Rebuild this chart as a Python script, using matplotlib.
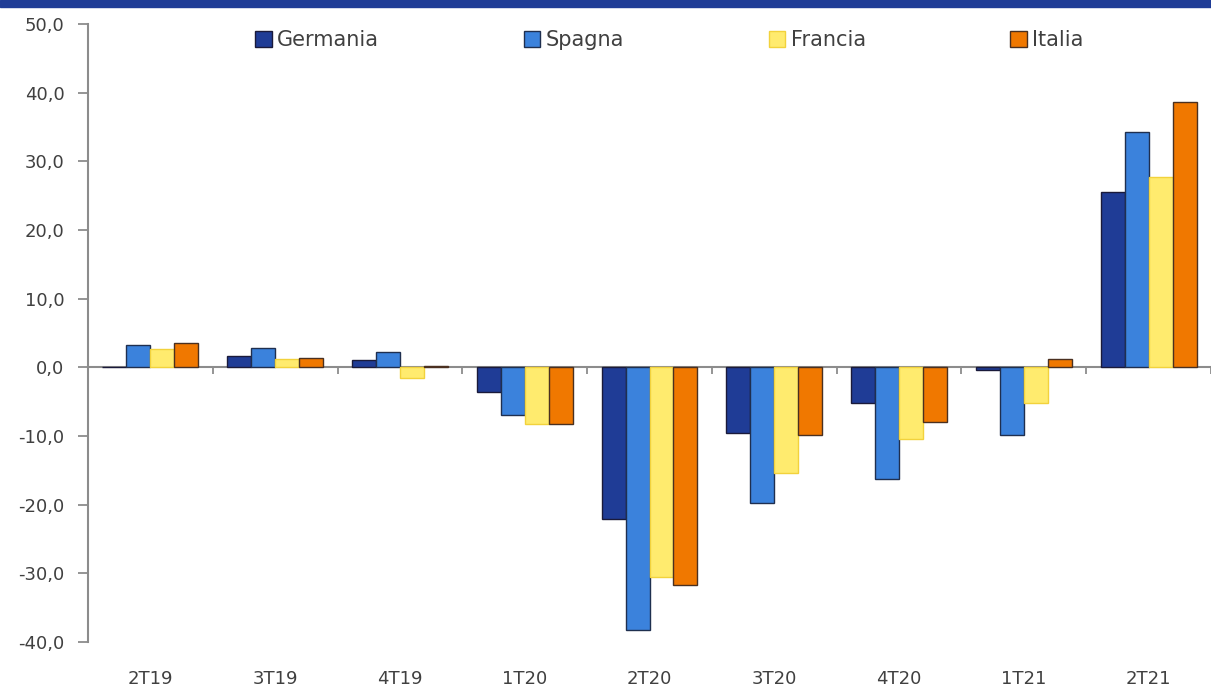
import numpy as np
import matplotlib.pyplot as plt
from matplotlib.patches import Rectangle
from matplotlib.ticker import FuncFormatter

quarters = ['2T19', '3T19', '4T19', '1T20', '2T20', '3T20', '4T20', '1T21', '2T21']
germania = [0.0, 1.7, 1.0, -3.6, -22.1, -9.6, -5.2, -0.4, 25.5]
spagna = [3.3, 2.8, 2.2, -7.0, -38.2, -19.8, -16.2, -9.9, 34.2]
francia = [2.6, 1.2, -1.5, -8.3, -30.6, -15.4, -10.5, -5.2, 27.7]
italia = [3.5, 1.3, 0.2, -8.3, -31.7, -9.9, -8.0, 1.2, 38.6]

series = [
    ('Germania', germania, '#1f3c96', '#1a1a3a'),
    ('Spagna', spagna, '#3b82dc', '#1f2f4f'),
    ('Francia', francia, '#ffeb6e', '#f2d23c'),
    ('Italia', italia, '#f07800', '#4a3020'),
]

plt.rcParams['font.family'] = ['DejaVu Sans']
text_col = '#404040'
axis_col = '#8c8c8c'

fig = plt.figure(figsize=(12.11, 6.88), dpi=100)
fig.patches.append(Rectangle((0, 1 - 7 / 688), 1, 7 / 688, transform=fig.transFigure,
                             color='#1f3c96', zorder=0))
ax = fig.add_axes([88 / 1211, 46 / 688, 1 - 88 / 1211, 618 / 688])

x = np.arange(len(quarters))
width = 0.192
for i, (name, vals, col, edge) in enumerate(series):
    ax.bar(x + (i - 1.5) * width, vals, width, color=col, edgecolor=edge,
           linewidth=1.0, label=name, zorder=3)

ax.set_xlim(-0.5, len(quarters) - 0.5)
ax.set_ylim(-40, 50)
ax.set_yticks(np.arange(-40, 51, 10))
ax.yaxis.set_major_formatter(FuncFormatter(lambda v, p: f'{v:.1f}'.replace('.', ',')))
ax.tick_params(axis='y', length=7, width=1.3, color=axis_col, pad=10,
               labelsize=13, labelcolor=text_col)

ax.set_xticks(x)
ax.set_xticklabels(quarters)
ax.tick_params(axis='x', length=0, pad=20, labelsize=13, labelcolor=text_col)

for s in ['top', 'right', 'bottom']:
    ax.spines[s].set_visible(False)
ax.spines['left'].set_color(axis_col)
ax.spines['left'].set_linewidth(1.5)

# zero line with category separators
zero = ax.secondary_xaxis(0, transform=ax.transData)
zero.set_xticks(np.arange(len(quarters) + 1) - 0.5)
zero.set_xticklabels([])
zero.tick_params(axis='x', length=5, width=1.3, color=axis_col, direction='out')
zero.spines['bottom'].set_color(axis_col)
zero.spines['bottom'].set_linewidth(1.5)

fig.legend(loc='center left', bbox_to_anchor=(255 / 1211, 1 - 40 / 688),
           ncol=4, frameon=False, fontsize=15, handlelength=0.8, handleheight=0.8,
           handletextpad=0.25, columnspacing=6.95, borderpad=0, borderaxespad=0,
           labelcolor=text_col)

fig.savefig('out.png', dpi=100)
